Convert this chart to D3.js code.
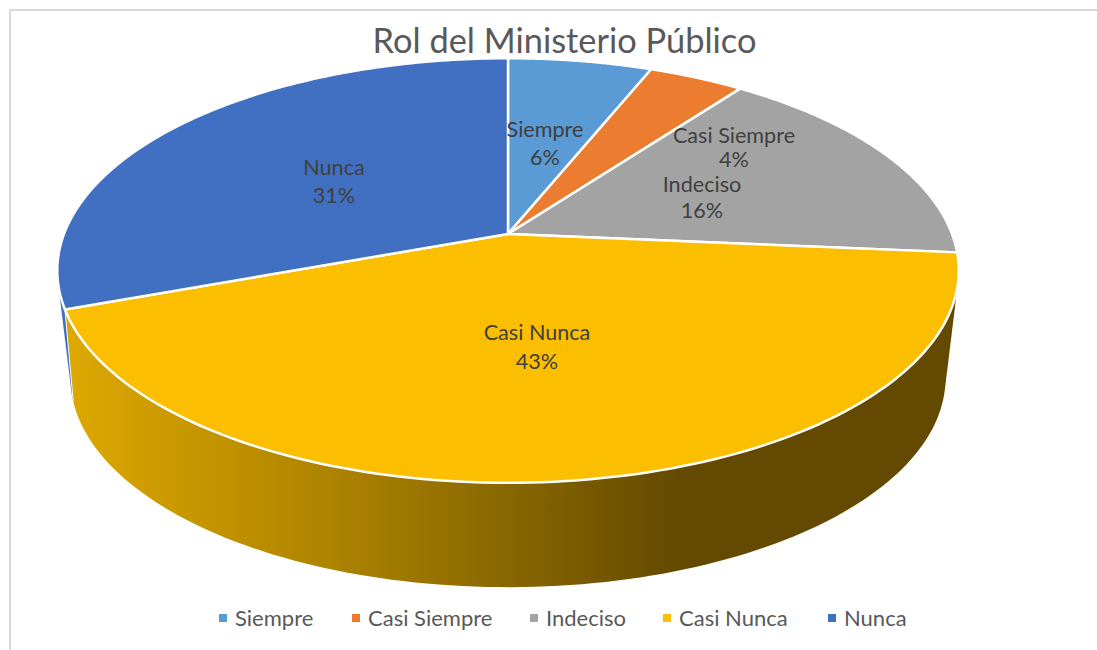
<!DOCTYPE html>
<html>
<head>
<meta charset="utf-8">
<script src="https://cdn.jsdelivr.net/npm/d3@7/dist/d3.min.js"></script>
<style>
html,body{margin:0;padding:0;background:#fff;overflow:hidden}
text{font-family:Lato,"Open Sans",sans-serif}
</style>
</head>
<body>
<svg id="chart" width="1097" height="650"></svg>
<script>
const title = "Rol del Ministerio Público";
const categories = ["Siempre", "Casi Siempre", "Indeciso", "Casi Nunca", "Nunca"];
const values = [6.1, 4.05, 16.25, 43, 30.6];
const colors = ["#5a9ad5", "#ec7c30", "#a3a3a3", "#fbbe00", "#4170c2"];

// layout
const labelX = [545, 734, 702, 537, 334];
const labelY = [130, 136, 185, 333, 168];
const labelGap = [28, 24, 26, 29, 28];
const legendX = [219, 352, 530, 663, 828];
const topPlane = {cx: 508, cy: 234, A: 444, B: 206, k: 0.172};
const bottomPlane = {cx: 508, cy: 342, A: 431, B: 203, k: 0.172};
const wallOverhang = 0.07;

const svg = d3.select("#chart");

function project(p, a) {
  const x = Math.sin(a), y = Math.cos(a), w = 1 + p.k * y;
  return [p.cx + p.A * x / w, p.cy - p.B * y / w];
}
function arcPts(p, a0, a1) {
  return d3.range(0, 1.0001, 1 / 120).map(t => project(p, a0 + (a1 - a0) * t));
}

const total = d3.sum(values);
const arcs = d3.pie().sort(null).value(d => d)(values);

// frame
svg.append("path").attr("d", "M10,650V10H1097").attr("fill", "none").attr("stroke", "#d9d9d9").attr("stroke-width", 2);

// gradient for the front wall
const defs = svg.append("defs");
const grad = defs.append("linearGradient").attr("id", "wall").attr("gradientUnits", "userSpaceOnUse")
  .attr("x1", 75).attr("x2", 680).attr("y1", 0).attr("y2", 0);
grad.append("stop").attr("offset", 0).attr("stop-color", "#dca700");
grad.append("stop").attr("offset", 0.47).attr("stop-color", "#a87f00");
grad.append("stop").attr("offset", 1).attr("stop-color", "#634a00");

const line = d3.line();

// outer walls: Nunca sliver behind, Casi Nunca in front
const nunca = arcs[4], casiNunca = arcs[3];
const seam = casiNunca.endAngle + wallOverhang;
const blueEnd = nunca.startAngle + 0.7;
const blueHull = d3.polygonHull(arcPts(topPlane, nunca.startAngle, blueEnd).concat(arcPts(bottomPlane, seam, blueEnd)));
svg.append("path").attr("d", line(blueHull) + "Z").attr("fill", colors[4]);

const wallHull = d3.polygonHull(arcPts(topPlane, casiNunca.startAngle, casiNunca.endAngle)
  .concat(arcPts(bottomPlane, casiNunca.startAngle, seam)));
svg.append("path").attr("d", line(wallHull) + "Z").attr("fill", "url(#wall)");
svg.append("path")
  .attr("d", line([project(topPlane, casiNunca.endAngle), project(bottomPlane, seam)]))
  .attr("stroke", "#fff").attr("stroke-width", 1).attr("fill", "none");

// top faces
svg.selectAll("path.face").data(arcs).join("path").attr("class", "face")
  .attr("d", d => line([[topPlane.cx, topPlane.cy]].concat(arcPts(topPlane, d.startAngle, d.endAngle))) + "Z")
  .attr("fill", (d, i) => colors[i])
  .attr("stroke", "#fff").attr("stroke-width", 2.5).attr("stroke-linejoin", "round");

// title
svg.append("text").attr("x", 564.5).attr("y", 53).attr("text-anchor", "middle")
  .attr("font-size", 34.4).attr("fill", "#595959").text(title);

// data labels
const pct = d3.format(".0%");
const labels = svg.selectAll("g.lab").data(arcs).join("g").attr("class", "lab")
  .attr("font-size", 21.6).attr("fill", "#404040").attr("text-anchor", "middle");
labels.append("text").attr("x", (d, i) => labelX[i]).attr("y", (d, i) => labelY[i] + 7)
  .text((d, i) => categories[i]);
labels.append("text").attr("x", (d, i) => labelX[i]).attr("y", (d, i) => labelY[i] + 7 + labelGap[i])
  .text(d => pct(d.value / total));

// legend
const leg = svg.selectAll("g.leg").data(categories).join("g").attr("class", "leg");
leg.append("rect").attr("x", (d, i) => legendX[i]).attr("y", 614).attr("width", 8).attr("height", 8)
  .attr("fill", (d, i) => colors[i]);
leg.append("text").attr("x", (d, i) => legendX[i] + 16).attr("y", 626)
  .attr("font-size", 22).attr("fill", "#595959").text(d => d);
</script>
</body>
</html>
